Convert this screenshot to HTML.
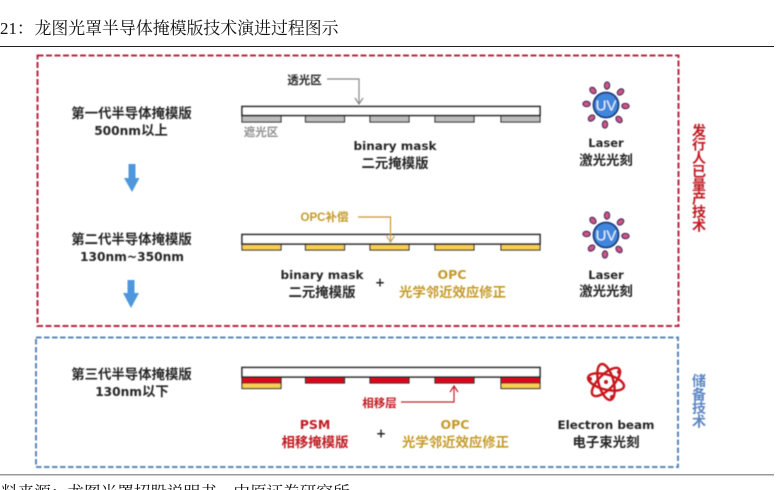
<!DOCTYPE html>
<html lang="zh">
<head>
<meta charset="utf-8">
<style>
html,body{margin:0;padding:0;background:#fff;width:776px;height:490px;overflow:hidden}
svg{display:block}
.c{font-family:"Liberation Sans","Noto Sans CJK SC",sans-serif;font-weight:700;font-size:13.4px;text-anchor:middle;fill:#262626}
.e{font-family:"DejaVu Sans","Liberation Sans",sans-serif;font-weight:700;font-size:11.5px;text-anchor:middle;fill:#262626}
.l{font-family:"DejaVu Sans","Liberation Sans",sans-serif;font-size:12.2px}
.s{font-size:11.5px}
.g{fill:#c49a2c}
.r{fill:#c01a24}
.v{font-family:"Liberation Sans","Noto Sans CJK SC",sans-serif;font-weight:700;font-size:14px;text-anchor:middle}
.t{font-family:"Liberation Serif","Noto Serif CJK SC",serif;fill:#111}
</style>
</head>
<body>
<svg width="776" height="490" viewBox="0 0 776 490" xmlns="http://www.w3.org/2000/svg">
<defs>
<filter id="b" x="-2%" y="-2%" width="104%" height="104%"><feGaussianBlur stdDeviation="0.45"/></filter>
<g id="uv">
  <g fill="#d2557f" stroke="#3f2c62" stroke-width="1.2" transform="rotate(3)">
    <ellipse cx="0" cy="-19.500" rx="2.600" ry="3.600"/>
    <ellipse cx="0" cy="-19.500" rx="2.600" ry="3.600" transform="rotate(45)"/>
    <ellipse cx="0" cy="-19.500" rx="2.600" ry="3.600" transform="rotate(90)"/>
    <ellipse cx="0" cy="-19.500" rx="2.600" ry="3.600" transform="rotate(135)"/>
    <ellipse cx="0" cy="-19.500" rx="2.600" ry="3.600" transform="rotate(180)"/>
    <ellipse cx="0" cy="-19.500" rx="2.600" ry="3.600" transform="rotate(225)"/>
    <ellipse cx="0" cy="-19.500" rx="2.600" ry="3.600" transform="rotate(270)"/>
    <ellipse cx="0" cy="-19.500" rx="2.600" ry="3.600" transform="rotate(315)"/>
  </g>
  <circle r="12.500" fill="#3f86dc" stroke="#1c3a78" stroke-width="1.800"/>
  <text y="5.500" text-anchor="middle" font-family="Liberation Sans,sans-serif" font-size="15" fill="#e8f1fb">UV</text>
</g>
</defs>

<text class="t" x="0" y="34" font-size="16.900">21&#xFF1A;</text>
<text class="t" x="34.500" y="34" font-size="16.900">龙图光罩半导体掩模版技术演进过程图示</text>
<rect x="0" y="46" width="774" height="1" fill="#222"/>
<rect x="0" y="474" width="774" height="1.500" fill="#999"/>
<text class="t" x="-15.500" y="498" font-size="16.600">资料来源&#xFF1A;龙图光罩招股说明书&#xFF0C;中原证券研究所</text>

<g filter="url(#b)">
<rect x="37.500" y="55.500" width="641" height="270.500" fill="none" stroke="#b8283f" stroke-width="2" stroke-dasharray="6 2.500"/>
<rect x="36" y="337.500" width="642" height="129.500" fill="none" stroke="#5b86b8" stroke-width="2" stroke-dasharray="5.500 2.500"/>

<!-- left labels -->
<text class="c" x="131.500" y="118">第一代半导体掩模版</text>
<text class="c" x="131" y="135"><tspan class="l">500nm</tspan>以上</text>
<text class="c" x="131.500" y="244">第二代半导体掩模版</text>
<text class="c l" x="132" y="261" textLength="104" lengthAdjust="spacingAndGlyphs">130nm~350nm</text>
<text class="c" x="131.500" y="379">第三代半导体掩模版</text>
<text class="c" x="132" y="396"><tspan class="l">130nm</tspan>以下</text>

<polygon points="128.500,164 135.500,164 135.500,178 139.500,178 132,192 124,178 128.500,178" fill="#4f97dc"/>
<polygon points="127.500,280 134.500,280 134.500,293 139,293 131,308 123,293 127.500,293" fill="#4f97dc"/>

<!-- mask 1 -->
<rect x="242" y="106.500" width="298" height="9" fill="#fff" stroke="#222" stroke-width="1.600"/>
<g fill="#bdbdbd" stroke="#222" stroke-width="1.100">
<rect x="242" y="116" width="39" height="6"/>
<rect x="305.500" y="116" width="39" height="6"/>
<rect x="370" y="116" width="39" height="6"/>
<rect x="435" y="116" width="39" height="6"/>
<rect x="501" y="116" width="39" height="6"/>
</g>
<text class="c s" x="304.500" y="84">透光区</text>
<text class="c s" x="261" y="136" style="fill:#8f8f8f">遮光区</text>
<polyline points="327,79 359,79 359,103" fill="none" stroke="#888" stroke-width="1.200"/>
<polyline points="355,98 359,104 363,98" fill="none" stroke="#888" stroke-width="1.200"/>
<text class="e" x="395" y="150" textLength="83" lengthAdjust="spacingAndGlyphs">binary mask</text>
<text class="c" x="395" y="168">二元掩模版</text>
<use href="#uv" x="606" y="105"/>
<text class="e" x="606" y="147">Laser</text>
<text class="c" x="606" y="165">激光光刻</text>

<!-- mask 2 -->
<rect x="242" y="234.500" width="298" height="9.500" fill="#fff" stroke="#222" stroke-width="1.600"/>
<g fill="#f8cf55" stroke="#222" stroke-width="1.100">
<rect x="242" y="244.500" width="39" height="5.500"/>
<rect x="305.500" y="244.500" width="39" height="5.500"/>
<rect x="370" y="244.500" width="39" height="5.500"/>
<rect x="435" y="244.500" width="39" height="5.500"/>
<rect x="501" y="244.500" width="39" height="5.500"/>
</g>
<text class="c s g" x="324.500" y="221">OPC补偿</text>
<polyline points="358,217 390.500,217 390.500,241" fill="none" stroke="#c49a2c" stroke-width="1.200"/>
<polyline points="386.500,236 390.500,242 394.500,236" fill="none" stroke="#c49a2c" stroke-width="1.200"/>
<text class="e" x="322" y="279" textLength="83" lengthAdjust="spacingAndGlyphs">binary mask</text>
<text class="c" x="322" y="297">二元掩模版</text>
<text class="e" x="380" y="286.500" style="font-size:12px">+</text>
<text class="e g" x="452" y="279" style="font-size:12.500px">OPC</text>
<text class="c g" x="452.500" y="297">光学邻近效应修正</text>
<use href="#uv" x="606" y="235"/>
<text class="e" x="606" y="279">Laser</text>
<text class="c" x="606" y="296">激光光刻</text>

<!-- mask 3 -->
<rect x="242" y="367.500" width="298" height="9.500" fill="#fff" stroke="#222" stroke-width="1.600"/>
<g stroke="#222" stroke-width="1.100">
<rect x="242" y="377.500" width="39" height="11" fill="#f8cf55"/>
<rect x="501" y="377.500" width="39" height="11" fill="#f8cf55"/>
<rect x="242" y="377.500" width="39" height="5.500" fill="#e3061c"/>
<rect x="501" y="377.500" width="39" height="5.500" fill="#e3061c"/>
<rect x="305.500" y="377.500" width="39" height="5.500" fill="#e3061c"/>
<rect x="370" y="377.500" width="39" height="5.500" fill="#e3061c"/>
<rect x="435" y="377.500" width="39" height="5.500" fill="#e3061c"/>
</g>
<text class="c s r" x="379.500" y="407">相移层</text>
<polyline points="401,402 454,402 454,387" fill="none" stroke="#c3202a" stroke-width="1.200"/>
<polyline points="450,392 454,386 458,392" fill="none" stroke="#c3202a" stroke-width="1.200"/>
<text class="e r" x="315" y="429" style="font-size:12.500px">PSM</text>
<text class="c r" x="315" y="447">相移掩模版</text>
<text class="e" x="381" y="437.500" style="font-size:12px">+</text>
<text class="e g" x="455" y="429" style="font-size:12.500px">OPC</text>
<text class="c g" x="455.500" y="447">光学邻近效应修正</text>
<g fill="none" stroke="#c8161d" stroke-width="2.400">
<ellipse cx="606" cy="382" rx="18.500" ry="7.500" transform="rotate(15 606 382)"/>
<ellipse cx="606" cy="382" rx="18.500" ry="7.500" transform="rotate(75 606 382)"/>
<ellipse cx="606" cy="382" rx="18.500" ry="7.500" transform="rotate(135 606 382)"/>
</g>
<g fill="#c8161d">
<circle cx="606" cy="382" r="2"/>
<circle cx="590" cy="379" r="2"/>
<circle cx="619" cy="372" r="2"/>
<circle cx="612" cy="397" r="2"/>
</g>
<text class="e" x="606" y="429" textLength="97" lengthAdjust="spacingAndGlyphs">Electron beam</text>
<text class="c" x="606" y="447">电子束光刻</text>

<!-- right labels -->
<g fill="#c01a24">
<text class="v" x="699" y="136">发</text>
<text class="v" x="699" y="149.500">行</text>
<text class="v" x="699" y="163">人</text>
<text class="v" x="699" y="176.500">已</text>
<text class="v" x="699" y="190">量</text>
<text class="v" x="699" y="203.500">产</text>
<text class="v" x="699" y="217">技</text>
<text class="v" x="699" y="230.500">术</text>
</g>
<g fill="#5b86c4">
<text class="v" x="699" y="386">储</text>
<text class="v" x="699" y="399.500">备</text>
<text class="v" x="699" y="413">技</text>
<text class="v" x="699" y="426.500">术</text>
</g>
</g>
</svg>
</body>
</html>
